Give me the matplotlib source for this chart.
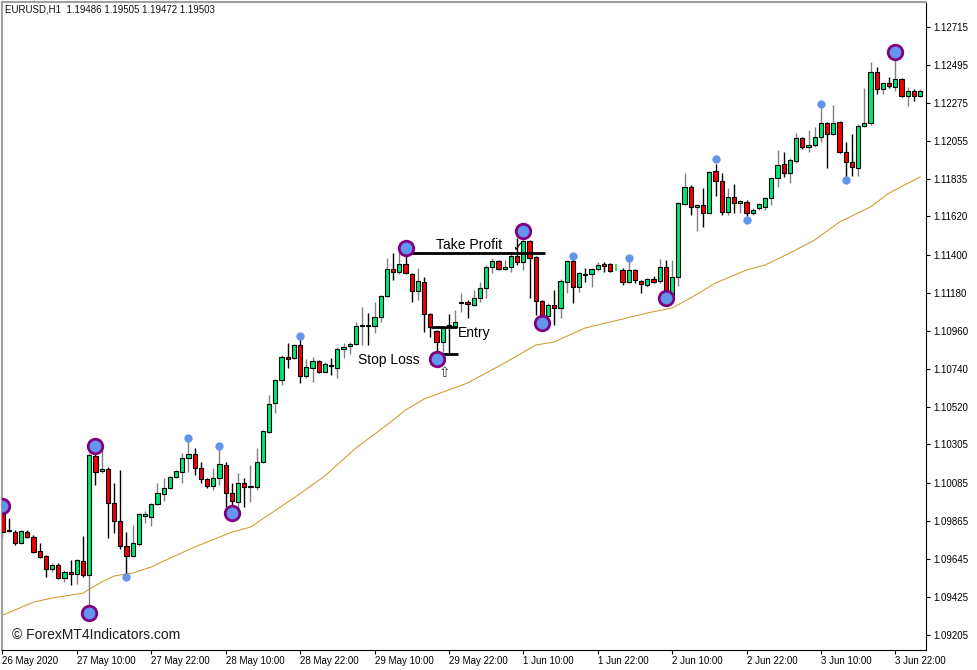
import matplotlib
matplotlib.use("Agg")
import matplotlib.pyplot as plt
from matplotlib.patches import Rectangle

# EURUSD H1 candles, 26 May 22:00 .. 3 Jun 22:00 (149 bars)
opens = [
    1.09926, 1.09811, 1.09799, 1.09736, 1.09799, 1.09770, 1.09690, 1.09661, 1.09586, 1.09609,
    1.09534, 1.09569, 1.09557, 1.09632, 1.09552, 1.10238, 1.10151, 1.10163, 1.09967, 1.09863,
    1.09719, 1.09661, 1.09730, 1.09892, 1.09886, 1.09961, 1.10019, 1.10053, 1.10117, 1.10146,
    1.10226, 1.10249, 1.10169, 1.10105, 1.10065, 1.10111, 1.10186, 1.10025, 1.09972, 1.10082,
    1.10059, 1.10059, 1.10203, 1.10376, 1.10544, 1.10677, 1.10809, 1.10803, 1.10878, 1.10700,
    1.10746, 1.10786, 1.10723, 1.10763, 1.10746, 1.10855, 1.10873, 1.10884, 1.10988, 1.10994,
    1.10988, 1.11040, 1.11161, 1.11317, 1.11300, 1.11346, 1.11288, 1.11190, 1.11242, 1.11057,
    1.10959, 1.10896, 1.10994, 1.10982, 1.11121, 1.11126, 1.11109, 1.11150, 1.11207, 1.11328,
    1.11363, 1.11317, 1.11328, 1.11392, 1.11357, 1.11478, 1.11386, 1.11132, 1.11046, 1.11109,
    1.11092, 1.11242, 1.11363, 1.11213, 1.11288, 1.11288, 1.11317, 1.11346, 1.11346, 1.11328,
    1.11311, 1.11242, 1.11311, 1.11248, 1.11225, 1.11259, 1.11248, 1.11328, 1.11167, 1.11271,
    1.11692, 1.11790, 1.11675, 1.11686, 1.11640, 1.11882, 1.11825, 1.11646, 1.11732, 1.11698,
    1.11703, 1.11640, 1.11669, 1.11675, 1.11727, 1.11842, 1.11923, 1.11871, 1.11940, 1.12073,
    1.12021, 1.12032, 1.12079, 1.12159, 1.12096, 1.12165, 1.11992, 1.11934, 1.11900, 1.12142,
    1.12159, 1.12454, 1.12355, 1.12390, 1.12367, 1.12413, 1.12315, 1.12344, 1.12315,
]
highs = [
    1.09938, 1.09880, 1.09811, 1.09811, 1.09811, 1.09782, 1.09736, 1.09667, 1.09621, 1.09621,
    1.09580, 1.09638, 1.09644, 1.09776, 1.10255, 1.10273, 1.10284, 1.10174, 1.10082, 1.10157,
    1.09799, 1.09840, 1.09909, 1.09921, 1.09967, 1.10082, 1.10111, 1.10123, 1.10157, 1.10255,
    1.10325, 1.10284, 1.10203, 1.10111, 1.10169, 1.10284, 1.10203, 1.10082, 1.10140, 1.10111,
    1.10186, 1.10284, 1.10388, 1.10590, 1.10682, 1.10821, 1.10890, 1.10884, 1.10919, 1.10798,
    1.10809, 1.10792, 1.10780, 1.10803, 1.10867, 1.10890, 1.10896, 1.11011, 1.11098, 1.11063,
    1.11126, 1.11167, 1.11380, 1.11409, 1.11415, 1.11427, 1.11294, 1.11323, 1.11271, 1.11063,
    1.10965, 1.10982, 1.11057, 1.11080, 1.11178, 1.11138, 1.11196, 1.11242, 1.11340, 1.11380,
    1.11369, 1.11369, 1.11403, 1.11496, 1.11501, 1.11484, 1.11392, 1.11138, 1.11121, 1.11196,
    1.11259, 1.11369, 1.11380, 1.11300, 1.11323, 1.11323, 1.11357, 1.11357, 1.11352, 1.11346,
    1.11323, 1.11369, 1.11317, 1.11253, 1.11265, 1.11277, 1.11375, 1.11369, 1.11369, 1.11703,
    1.11871, 1.11802, 1.11692, 1.11784, 1.11882, 1.11923, 1.11871, 1.11784, 1.11807, 1.11715,
    1.11715, 1.11669, 1.11698, 1.11732, 1.11848, 1.12004, 1.11992, 1.11957, 1.12102, 1.12079,
    1.12119, 1.12136, 1.12246, 1.12165, 1.12263, 1.12171, 1.12050, 1.12096, 1.12154, 1.12361,
    1.12511, 1.12482, 1.12396, 1.12425, 1.12552, 1.12419, 1.12367, 1.12355, 1.12355,
]
lows = [
    1.09770, 1.09799, 1.09724, 1.09730, 1.09765, 1.09678, 1.09650, 1.09540, 1.09569, 1.09528,
    1.09511, 1.09494, 1.09500, 1.09540, 1.09349, 1.10071, 1.10140, 1.09765, 1.09794, 1.09701,
    1.09557, 1.09655, 1.09719, 1.09851, 1.09834, 1.09955, 1.09978, 1.10048, 1.10111, 1.10082,
    1.10146, 1.10128, 1.10082, 1.10053, 1.10042, 1.10071, 1.09944, 1.09926, 1.09915, 1.09944,
    1.09972, 1.10042, 1.10197, 1.10371, 1.10486, 1.10648, 1.10746, 1.10798, 1.10659, 1.10688,
    1.10665, 1.10717, 1.10717, 1.10705, 1.10688, 1.10803, 1.10826, 1.10878, 1.10878, 1.10878,
    1.10948, 1.11011, 1.11155, 1.11253, 1.11288, 1.11288, 1.11126, 1.11138, 1.10953, 1.10925,
    1.10821, 1.10838, 1.10832, 1.10977, 1.11069, 1.11034, 1.11103, 1.11126, 1.11150, 1.11294,
    1.11311, 1.11311, 1.11300, 1.11340, 1.11311, 1.11150, 1.11052, 1.11034, 1.11040, 1.10994,
    1.11034, 1.11178, 1.11121, 1.11184, 1.11242, 1.11213, 1.11305, 1.11300, 1.11300, 1.11305,
    1.11225, 1.11236, 1.11236, 1.11178, 1.11213, 1.11236, 1.11236, 1.11161, 1.11155, 1.11219,
    1.11686, 1.11628, 1.11536, 1.11559, 1.11634, 1.11738, 1.11628, 1.11628, 1.11640, 1.11640,
    1.11623, 1.11628, 1.11657, 1.11657, 1.11686, 1.11790, 1.11848, 1.11813, 1.11929, 1.12009,
    1.11992, 1.12021, 1.12050, 1.11900, 1.12090, 1.11986, 1.11848, 1.11854, 1.11854, 1.12136,
    1.12148, 1.12327, 1.12327, 1.12361, 1.12344, 1.12309, 1.12257, 1.12286, 1.12309,
]
closes = [
    1.09799, 1.09805, 1.09736, 1.09805, 1.09770, 1.09684, 1.09655, 1.09586, 1.09609, 1.09534,
    1.09569, 1.09557, 1.09638, 1.09552, 1.10244, 1.10146, 1.10163, 1.09967, 1.09863, 1.09719,
    1.09661, 1.09736, 1.09903, 1.09903, 1.09961, 1.10025, 1.10053, 1.10117, 1.10151, 1.10226,
    1.10249, 1.10169, 1.10105, 1.10065, 1.10111, 1.10192, 1.10025, 1.09978, 1.10082, 1.10059,
    1.10065, 1.10203, 1.10382, 1.10538, 1.10677, 1.10809, 1.10798, 1.10878, 1.10700, 1.10751,
    1.10786, 1.10723, 1.10769, 1.10757, 1.10855, 1.10867, 1.10884, 1.10988, 1.10994, 1.10988,
    1.11040, 1.11161, 1.11317, 1.11300, 1.11346, 1.11294, 1.11190, 1.11248, 1.11057, 1.10982,
    1.10896, 1.10977, 1.10988, 1.11011, 1.11126, 1.11115, 1.11150, 1.11207, 1.11328, 1.11363,
    1.11317, 1.11328, 1.11392, 1.11357, 1.11478, 1.11380, 1.11132, 1.11046, 1.11109, 1.11092,
    1.11248, 1.11363, 1.11213, 1.11294, 1.11282, 1.11317, 1.11340, 1.11334, 1.11305, 1.11328,
    1.11242, 1.11311, 1.11253, 1.11230, 1.11259, 1.11242, 1.11328, 1.11167, 1.11271, 1.11698,
    1.11790, 1.11675, 1.11686, 1.11640, 1.11877, 1.11825, 1.11646, 1.11732, 1.11698, 1.11709,
    1.11640, 1.11657, 1.11692, 1.11727, 1.11842, 1.11917, 1.11871, 1.11946, 1.12073, 1.12021,
    1.12032, 1.12079, 1.12159, 1.12096, 1.12159, 1.11992, 1.11934, 1.11905, 1.12142, 1.12159,
    1.12454, 1.12355, 1.12390, 1.12373, 1.12413, 1.12315, 1.12344, 1.12315, 1.12344,
]

# swing markers (bar index, price)
swing_idx = [0, 14, 15, 37, 65, 70, 84, 87, 107, 144]
swing_px = [1.09949, 1.09332, 1.10296, 1.09909, 1.11438, 1.10798, 1.11536, 1.11005, 1.11150, 1.12569]
dot_idx = [20, 30, 35, 48, 92, 101, 115, 120, 132, 136]
dot_px = [1.09540, 1.10342, 1.10296, 1.10930, 1.11392, 1.11380, 1.11952, 1.11600, 1.12269, 1.11830]

# moving average, read at sample bars
ma_idx = [0, 5, 8, 13, 14, 16, 18, 21, 24, 26, 31, 37, 40, 47, 52, 57, 62, 65, 68, 75,
          81, 86, 89, 94, 100, 104, 108, 111, 115, 120, 123, 127, 131, 135, 140, 143, 148]
ma_px = [1.09320, 1.09395, 1.09419, 1.09447, 1.09470, 1.09511, 1.09546, 1.09563, 1.09598,
         1.09632, 1.09713, 1.09799, 1.09828, 1.09996, 1.10123, 1.10284, 1.10417, 1.10503,
         1.10567, 1.10659, 1.10775, 1.10878, 1.10896, 1.10977, 1.11028, 1.11063, 1.11092,
         1.11150, 1.11236, 1.11311, 1.11340, 1.11409, 1.11484, 1.11588, 1.11675, 1.11755,
         1.11848]

x_tick_bars = list(range(0, 149, 12))
x_tick_labels = ["26 May 2020", "27 May 10:00", "27 May 22:00", "28 May 10:00", "28 May 22:00",
                 "29 May 10:00", "29 May 22:00", "1 Jun 10:00", "1 Jun 22:00", "2 Jun 10:00",
                 "2 Jun 22:00", "3 Jun 10:00", "3 Jun 22:00"]
y_ticks = [1.12715, 1.12495, 1.12275, 1.12055, 1.11835, 1.11620, 1.11400, 1.11180, 1.10960,
           1.10740, 1.10520, 1.10305, 1.10085, 1.09865, 1.09645, 1.09425, 1.09205]

take_profit = 1.11409
entry = 1.10984
stop_loss = 1.10826

BULL = "#00E676"
BEAR = "#F00000"
FONT = "Liberation Sans"

W, H = 977, 670
fig = plt.figure(figsize=(W / 100, H / 100), dpi=100, facecolor="white")
ax = fig.add_axes([2 / W, 20 / H, 924 / W, 648 / H])
ax.set_xlim(-0.08, 148.95)
ax.set_ylim(1.09119, 1.12857)

ax.plot(ma_idx, ma_px, color="#D09A2C", lw=0.75, zorder=1)

for i, (o, h, l, c) in enumerate(zip(opens, highs, lows, closes)):
    if i == 99:
        ax.vlines(i, l, h, color="#22DD22", lw=1.2, zorder=2)
        continue
    up = c >= o
    ax.vlines(i, l, h, color="#808080" if up else "black", lw=1.0, zorder=2)
    lo, hi = min(o, c), max(o, c)
    if hi - lo < 0.00003:
        ax.hlines((o + c) / 2, i - 0.35, i + 0.35, color="black", lw=1.5, zorder=3)
    else:
        ax.add_patch(Rectangle((i - 0.35, lo), 0.7, hi - lo,
                               facecolor=BULL if up else BEAR,
                               edgecolor="black", lw=0.8, zorder=3))

ax.scatter(swing_idx, swing_px, s=110, facecolor="#6495ED", edgecolor="#800080",
           linewidth=2.0, zorder=5)
ax.scatter(dot_idx, dot_px, s=36, color="#6495ED", zorder=5, linewidths=0)

# trade levels
ax.hlines(take_profit, 65.3, 87.5, color="black", lw=2, zorder=4)
ax.hlines(entry, 69.1, 73.3, color="black", lw=2, zorder=4)
ax.hlines(stop_loss, 69.1, 73.4, color="black", lw=2, zorder=4)
ax.text(75.2, 1.11456, "Take Profit", fontsize=10, family=FONT, ha="center", va="center")
ax.text(73.5, 1.10946, "Entry", fontsize=10, family=FONT, ha="left", va="center")
ax.text(67.2, 1.10792, "Stop Loss", fontsize=10, family=FONT, ha="right", va="center")
ax.text(83.1, 1.11438, "\u2713", fontsize=9, family="DejaVu Sans", ha="center", va="center")
ax.text(71.2, 1.10717, "\u21e7", fontsize=10, family="DejaVu Sans", ha="center", va="center",
        color="#333333")

# axes styling
ax.yaxis.tick_right()
ax.set_yticks(y_ticks)
ax.set_yticklabels([f"{v:.5f}" for v in y_ticks], family=FONT, fontsize=7)
ax.set_xticks(x_tick_bars)
ax.set_xticklabels(x_tick_labels, family=FONT, fontsize=7, ha="left")
ax.tick_params(axis="y", direction="out", length=3, width=0.8, pad=2, colors="black")
ax.tick_params(axis="x", direction="out", length=3, width=0.8, pad=1.5, colors="black")
for side in ("left", "top"):
    ax.spines[side].set_color("#A0A0A0")
    ax.spines[side].set_linewidth(1.5)
for side in ("right", "bottom"):
    ax.spines[side].set_color("black")
    ax.spines[side].set_linewidth(0.8)

fig.text(5 / W, 1 - 9 / H, "EURUSD,H1  1.19486 1.19505 1.19472 1.19503",
         fontsize=7, family=FONT, va="center", ha="left", color="#111111")
fig.text(12 / W, 1 - 635 / H, "\u00a9 ForexMT4Indicators.com",
         fontsize=10, family=FONT, va="center", ha="left", color="#1a1a1a")

fig.savefig("out.png", dpi=100, facecolor="white")
